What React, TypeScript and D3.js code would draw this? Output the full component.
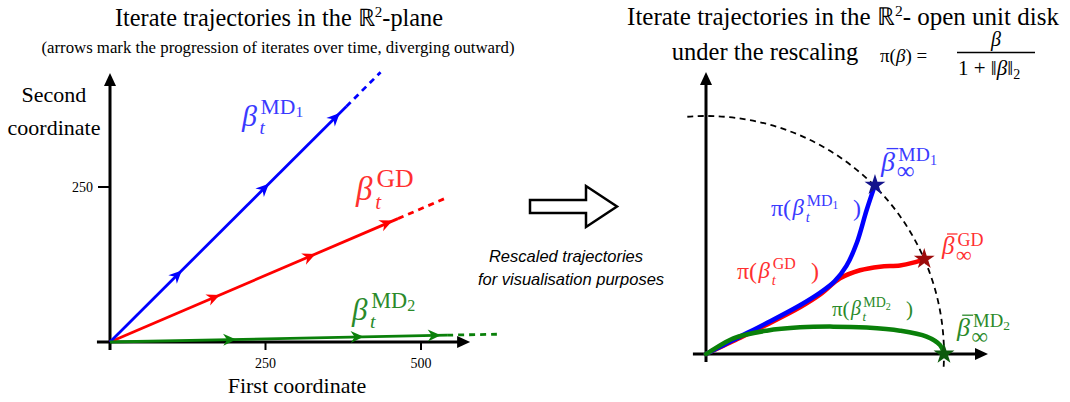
import * as d3 from "d3";

// ---- left panel: iterate trajectories (data units) ----
const leftTicksX = [250, 500];
const leftTicksY = [250];

const md1Solid: [number, number][] = [[0, 0], [380, 380]];
const md1Dashed: [number, number][] = [[380, 380], [435, 435]];
const md1Arrows: [number, number][] = [[112, 112], [252, 252], [366, 366]];

const gdSolid: [number, number][] = [[0, 0], [463, 199]];
const gdDashed: [number, number][] = [[463, 199], [542, 233]];
const gdArrows: [number, number][] = [[172, 74], [326, 140], [450, 194]];

const md2Solid: [number, number][] = [[0, 0], [542, 11]];
const md2Dashed: [number, number][] = [[542, 11], [622, 12.5]];
const md2Arrows: [number, number][] = [[198, 4], [403, 8.2], [527, 10.7]];

// ---- right panel: rescaled trajectories in the unit disk ----
const piMd1: [number, number][] = [
  [0, 0], [0.06, 0.03], [0.115, 0.059], [0.255, 0.13], [0.395, 0.205],
  [0.48, 0.258], [0.54, 0.305], [0.59, 0.37], [0.633, 0.465], [0.675, 0.605], [0.71, 0.71],
];
const piGd: [number, number][] = [
  [0, 0], [0.06, 0.028], [0.115, 0.055], [0.255, 0.123], [0.395, 0.196],
  [0.48, 0.25], [0.563, 0.318], [0.647, 0.352], [0.731, 0.367], [0.815, 0.372],
  [0.871, 0.384], [0.917, 0.399],
];
const piMd2: [number, number][] = [
  [0, 0], [0.017, 0.01], [0.115, 0.066], [0.255, 0.098], [0.395, 0.112],
  [0.535, 0.115], [0.675, 0.111], [0.815, 0.098], [0.927, 0.073], [0.983, 0.038], [1.0, 0.004],
];
const limitMd1: [number, number] = [0.71, 0.71];
const limitGd: [number, number] = [0.917, 0.399];
const limitMd2: [number, number] = [1.0, 0.0];

const BLUE = "#0000ff";
const RED = "#ff0000";
const GREEN = "#0a800a";
const BLUE_TXT = "#3a3aff";
const RED_TXT = "#ff3030";
const GREEN_TXT = "#2a8a2a";
const SERIF = "Liberation Serif, Times New Roman, serif";
const serif = { fontFamily: SERIF };

const W = 1070;
const H = 402;

function BetaLabel({
  x, y, s, color, sup, idx, sub, bar = false, subSize, supRatio = 0.72, supDy = 0.4, subDy = 0.27,
}: {
  x: number; y: number; s: number; color: string; sup: string; idx?: string;
  sub: string; bar?: boolean; subSize?: number; supRatio?: number; supDy?: number; subDy?: number;
}) {
  const ss = s * supRatio;
  const isInf = sub === "∞";
  return (
    <g fill={color}>
      <text x={x} y={y} fontSize={s} fontStyle="italic" style={serif}>β</text>
      {bar && (
        <line x1={x + s * 0.2} x2={x + s * 0.62} y1={y - s * 0.8} y2={y - s * 0.8}
          stroke={color} strokeWidth={1.3} />
      )}
      <text x={x + s * 0.62} y={y - s * supDy} fontSize={ss} style={serif}>
        {sup}
        {idx && <tspan fontSize={ss * 0.72} dy={ss * 0.16}>{idx}</tspan>}
      </text>
      <text x={x + s * (isInf ? 0.56 : 0.58)} y={y + s * subDy} style={serif}
        fontSize={subSize ?? s * 0.64} fontStyle={isInf ? "normal" : "italic"}>{sub}</text>
    </g>
  );
}

function PiLabel({
  x, y, s, color, sup, idx, width,
}: {
  x: number; y: number; s: number; color: string; sup: string; idx?: string; width: number;
}) {
  return (
    <g fill={color}>
      <text x={x} y={y} fontSize={s} style={serif}>π(</text>
      <BetaLabel x={x + s * 0.9} y={y - 1} s={s * 0.95} color={color} sup={sup} idx={idx} sub="t"
        supRatio={0.7} supDy={0.38} subDy={0.3} />
      <text x={x + width} y={y} fontSize={s} style={serif}>)</text>
    </g>
  );
}

function arrowHead(p1: [number, number], p2: [number, number], len = 12, hw = 6) {
  const a = (Math.atan2(p2[1] - p1[1], p2[0] - p1[0]) * 180) / Math.PI;
  return (
    <path d={`M0,0L${-len},${-hw}L${-len},${hw}Z`} transform={`translate(${p2[0]},${p2[1]}) rotate(${a})`} fill="#000" />
  );
}

export default function App() {
  const xL = d3.scaleLinear().domain([0, 500]).range([110, 421]);
  const yL = d3.scaleLinear().domain([0, 250]).range([342, 187]);
  const xR = d3.scaleLinear().domain([0, 1]).range([706, 944]);
  const yR = d3.scaleLinear().domain([0, 1]).range([354, 116]);

  const lineL = d3.line<[number, number]>().x((d) => xL(d[0])).y((d) => yL(d[1]));
  const lineR = d3
    .line<[number, number]>()
    .x((d) => xR(d[0]))
    .y((d) => yR(d[1]))
    .curve(d3.curveCatmullRom.alpha(0.5));

  const star = d3.symbol().type(d3.symbolStar).size(135)();

  const circle = d3.path();
  const r = xR(1) - xR(0);
  circle.arc(xR(0), yR(0), r, (-94.5 * Math.PI) / 180, (3.6 * Math.PI) / 180, false);

  const series = [
    { solid: gdSolid, dashed: gdDashed, arrows: gdArrows, color: RED },
    { solid: md1Solid, dashed: md1Dashed, arrows: md1Arrows, color: BLUE },
    { solid: md2Solid, dashed: md2Dashed, arrows: md2Arrows, color: GREEN },
  ];

  const seriesArrow = (pt: [number, number], ref: [number, number], color: string, key: string) => {
    const px = xL(pt[0]);
    const py = yL(pt[1]);
    const a = (Math.atan2(yL(ref[1]) - yL(0), xL(ref[0]) - xL(0)) * 180) / Math.PI;
    return (
      <path key={key} d="M3,0L-10,-6L-6,0L-10,6Z" fill={color}
        transform={`translate(${px},${py}) rotate(${a})`} />
    );
  };

  // axis geometry
  const lx0 = xL(-21), lx1 = xL(579), lyB = yL(-13), lyT = yL(434);
  const rx0 = xR(-0.055), rx1 = xR(1.185), ryB = yR(-0.034), ryT = yR(1.185);

  return (
    <svg width={W} height={H} style={{ position: "absolute", left: 0, top: 0, background: "#fff" }}>
      {/* ---------- titles ---------- */}
      <g fill="#000" textAnchor="middle">
        <text x={279} y={26} fontSize={24.3} style={serif}>
          Iterate trajectories in the ℝ<tspan fontSize={15} dy={-9}>2</tspan><tspan dy={9}>-plane</tspan>
        </text>
        <text x={278} y={53} fontSize={16.8} style={serif}>
          (arrows mark the progression of iterates over time, diverging outward)
        </text>
        <text x={843} y={25} fontSize={25} style={serif}>
          Iterate trajectories in the ℝ<tspan fontSize={15.5} dy={-9}>2</tspan><tspan dy={9}>- open unit disk</tspan>
        </text>
        <text x={765} y={60} fontSize={24.5} style={serif}>under the rescaling</text>
      </g>
      {/* formula */}
      <g fill="#000">
        <text x={880} y={62} fontSize={19} style={serif}>π(<tspan fontStyle="italic">β</tspan>) =</text>
        <text x={996} y={46} fontSize={20} fontStyle="italic" textAnchor="middle" style={serif}>β</text>
        <line x1={957} x2={1035} y1={52.5} y2={52.5} stroke="#000" strokeWidth={1.3} />
        <text x={958} y={75} fontSize={21} style={serif}>
          1 + ‖<tspan fontStyle="italic">β</tspan>‖<tspan fontSize={14} dy={4}>2</tspan>
        </text>
      </g>

      {/* ---------- left panel ---------- */}
      <g stroke="#000" strokeWidth={3}>
        <line x1={lx0} x2={lx1 - 8} y1={yL(0)} y2={yL(0)} />
        <line x1={xL(0)} x2={xL(0)} y1={lyB} y2={lyT + 8} />
        {leftTicksX.map((t) => (
          <line key={t} x1={xL(t)} x2={xL(t)} y1={yL(0)} y2={yL(0) + 8} strokeWidth={2} />
        ))}
        {leftTicksY.map((t) => (
          <line key={t} x1={xL(0) - 12} x2={xL(0)} y1={yL(t)} y2={yL(t)} strokeWidth={2} />
        ))}
      </g>
      {arrowHead([lx0, yL(0)], [lx1, yL(0)], 13, 6)}
      {arrowHead([xL(0), lyB], [xL(0), lyT], 13, 6)}
      <g fontSize={14} fill="#000">
        {leftTicksX.map((t) => (
          <text key={t} x={xL(t)} y={368} textAnchor="middle" style={serif}>{t}</text>
        ))}
        {leftTicksY.map((t) => (
          <text key={t} x={93} y={yL(t) + 5} textAnchor="end" style={serif}>{t}</text>
        ))}
      </g>
      <g fontSize={22} fill="#000" textAnchor="middle">
        <text x={54} y={102} style={serif}>Second</text>
        <text x={54} y={135} style={serif}>coordinate</text>
        <text x={297} y={393} style={serif}>First coordinate</text>
      </g>

      {series.map((s, i) => (
        <g key={i}>
          <path d={lineL(s.solid) ?? ""} stroke={s.color} strokeWidth={2.8} fill="none" />
          <path d={lineL(s.dashed) ?? ""} stroke={s.color} strokeWidth={2.8} fill="none" strokeDasharray="6,5" />
          {s.arrows.map((p, j) => seriesArrow(p, s.solid[1], s.color, `${i}-${j}`))}
        </g>
      ))}

      <BetaLabel x={242} y={126} s={30} color={BLUE_TXT} sup="MD" idx="1" sub="t" />
      <BetaLabel x={356} y={200} s={33} color={RED_TXT} sup="GD" sub="t" supRatio={0.78} />
      <BetaLabel x={352} y={320} s={31} color={GREEN_TXT} sup="MD" idx="2" sub="t" />

      {/* ---------- middle arrow ---------- */}
      <path d="M530,200L586,200L586,186L617,206.5L586,227L586,213L530,213Z"
        fill="#fff" stroke="#000" strokeWidth={2.5} strokeLinejoin="miter" />
      <g fontFamily="Liberation Sans, Arial, sans-serif" fontStyle="italic" fontSize={16.5}
        fill="#000" textAnchor="middle">
        <text x={566} y={262}>Rescaled trajectories</text>
        <text x={571} y={285}>for visualisation purposes</text>
      </g>

      {/* ---------- right panel ---------- */}
      <path d={circle.toString()} fill="none" stroke="#000" strokeWidth={1.8} strokeDasharray="6,4.5" />
      <g stroke="#000" strokeWidth={3}>
        <line x1={rx0} x2={rx1 - 8} y1={yR(0)} y2={yR(0)} />
        <line x1={xR(0)} x2={xR(0)} y1={ryB} y2={ryT + 8} />
      </g>
      {arrowHead([rx0, yR(0)], [rx1, yR(0)], 13, 6)}
      {arrowHead([xR(0), ryB], [xR(0), ryT], 13, 6)}

      <path d={lineR(piGd) ?? ""} stroke={RED} strokeWidth={4.5} fill="none" strokeLinecap="round" />
      <path d={lineR(piMd1) ?? ""} stroke={BLUE} strokeWidth={4.5} fill="none" strokeLinecap="round" />
      <path d={lineR(piMd2) ?? ""} stroke={GREEN} strokeWidth={4.5} fill="none" strokeLinecap="round" />

      <path d={star ?? ""} transform={`translate(${xR(limitMd1[0])},${yR(limitMd1[1])})`} fill="#14148c" />
      <path d={star ?? ""} transform={`translate(${xR(limitGd[0])},${yR(limitGd[1])})`} fill="#9c0b0b" />
      <path d={star ?? ""} transform={`translate(${xR(limitMd2[0])},${yR(limitMd2[1])})`} fill="#0d5a0d" />

      <BetaLabel x={881} y={171} s={28} color={BLUE_TXT} sup="MD" idx="1" sub="∞" bar subSize={25}
        supRatio={0.7} supDy={0.34} subDy={0.3} />
      <BetaLabel x={942} y={254} s={25} color={RED_TXT} sup="GD" sub="∞" bar subSize={22}
        supRatio={0.72} supDy={0.34} subDy={0.3} />
      <BetaLabel x={957} y={336} s={26} color={GREEN_TXT} sup="MD" idx="2" sub="∞" bar subSize={23}
        supRatio={0.72} supDy={0.34} subDy={0.3} />

      <PiLabel x={771} y={216} s={24} color={BLUE_TXT} sup="MD" idx="1" width={82} />
      <PiLabel x={737} y={279} s={24} color={RED_TXT} sup="GD" width={74} />
      <PiLabel x={832} y={316} s={21} color={GREEN_TXT} sup="MD" idx="2" width={74} />
    </svg>
  );
}
